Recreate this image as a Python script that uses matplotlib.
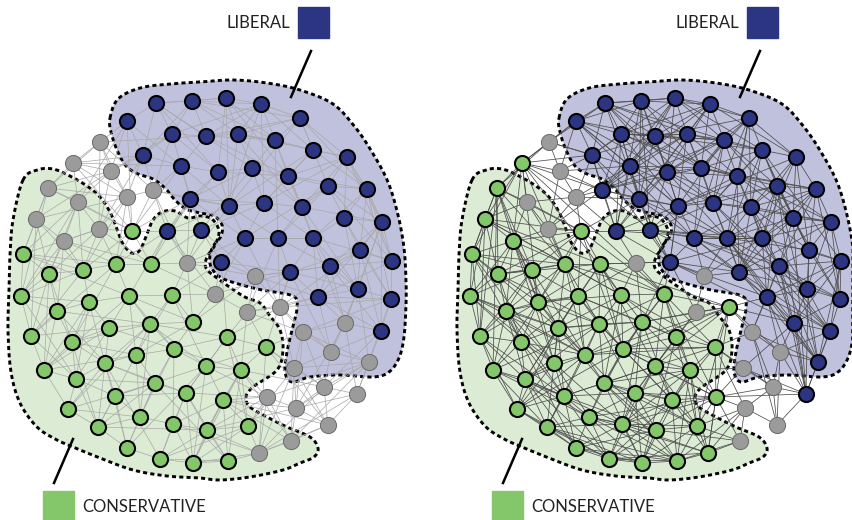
import numpy as np
import matplotlib
matplotlib.use("Agg")
import matplotlib.pyplot as plt
from matplotlib.collections import LineCollection

# Node layout (pixel units within one panel) and group of each node
node_x = [156, 192, 226, 261, 300, 127, 172, 206, 238, 275, 313, 347,
          143, 181, 218, 252, 288, 328, 367, 190, 229, 264, 302, 344, 382,
          167, 201, 245, 278, 313, 360, 221, 290, 330, 392, 318, 358, 391, 381,
          132, 23, 49, 83, 116, 151, 21, 57, 89, 129, 172,
          31, 72, 109, 150, 193, 227, 266, 44, 76, 105, 136, 174, 206, 241,
          68, 115, 155, 186, 223, 98, 140, 173, 207, 248, 127, 160, 193, 228,
          100, 73, 111, 48, 78, 127, 153, 36, 99, 64, 187, 255, 215, 247,
          280, 303, 345, 331, 294, 369, 267, 296, 324, 357, 328, 291, 259]
node_y = [103, 101, 98, 104, 118, 121, 134, 136, 134, 140, 150, 157,
          155, 166, 172, 168, 176, 186, 189, 199, 206, 203, 207, 218, 222,
          231, 230, 238, 238, 238, 250, 262, 272, 266, 261, 297, 289, 299, 331,
          231, 254, 274, 270, 264, 264, 296, 311, 302, 296, 295,
          336, 342, 328, 324, 322, 337, 347, 370, 379, 363, 355, 349, 366, 370,
          409, 396, 383, 393, 400, 427, 417, 424, 430, 426, 448, 459, 463, 461,
          142, 163, 171, 188, 202, 197, 190, 219, 229, 241, 263, 276, 294, 312,
          307, 332, 323, 352, 368, 362, 397, 408, 387, 394, 425, 441, 453]
group_before = (["L"] * 39 + ["C"] * 39 +
                ["U"] * 27)
group_after = (["L"] * 39 + ["C"] * 39 +
               ["U", "C", "U", "C", "U", "U", "L", "C", "U", "C", "U", "U", "C",
                "U", "C", "U", "L", "U", "U", "L", "C", "U", "U", "L", "U", "U",
                "C"])

legend_labels = ["LIBERAL", "CONSERVATIVE"]

# Community outlines (panel pixel units)
liberal_outline = [
    (110, 118), (118, 99), (140, 88), (170, 84), (200, 82), (233, 80),
    (267, 83), (300, 90), (333, 104), (355, 127), (372, 152), (388, 182),
    (398, 215), (404, 248), (406, 280), (406, 305), (404, 337), (399, 358),
    (389, 372), (373, 377), (340, 375), (310, 377), (292, 382), (285, 372),
    (287, 352), (292, 330), (297, 308), (293, 296), (262, 290), (235, 283),
    (220, 277), (211, 267), (210, 255), (214, 245), (221, 236), (222, 225),
    (214, 216), (200, 213), (186, 209), (175, 200), (165, 188), (153, 179),
    (138, 174), (126, 166), (117, 150), (111, 132)]
conservative_outline = [
    (23, 180), (37, 170), (53, 169), (70, 176), (87, 186), (100, 197),
    (110, 212), (117, 229), (123, 244), (132, 253), (140, 250), (147, 234),
    (153, 220), (162, 212), (175, 211), (188, 218), (200, 216), (212, 219),
    (219, 231), (215, 245), (207, 257), (206, 268), (217, 278), (243, 296),
    (260, 303), (270, 316), (280, 330), (283, 350), (277, 370), (253, 387),
    (246, 397), (250, 407), (267, 417), (287, 427), (310, 437), (318, 448),
    (314, 457), (300, 463), (283, 470), (250, 477), (220, 480), (200, 478),
    (167, 476), (133, 470), (100, 458), (73, 447), (57, 440), (37, 427),
    (20, 403), (11, 372), (8, 330), (9, 290), (10, 255), (13, 220)]

COL = {"L": "#2c3582", "C": "#84c76a", "U": "#9b9b9b"}
FILL_L = "#c0c1dc"
FILL_C = "#dcebd4"


def smooth_closed(pts, n=10):
    p = np.asarray(pts, float)
    m = len(p)
    t = np.linspace(0, 1, n, endpoint=False)[:, None]
    segs = []
    for i in range(m):
        p0, p1, p2, p3 = p[i - 1], p[i], p[(i + 1) % m], p[(i + 2) % m]
        segs.append(0.5 * (2 * p1 + (-p0 + p2) * t
                           + (2 * p0 - 5 * p1 + 4 * p2 - p3) * t ** 2
                           + (-p0 + 3 * p1 - 3 * p2 + p3) * t ** 3))
    out = np.vstack(segs)
    return np.vstack([out, out[:1]])


def neighbour_links(x, y, groups, ranks_any, ranks_same):
    """Link every node to the neighbours at the given distance ranks."""
    pts = np.column_stack([x, y]).astype(float)
    d = np.hypot(*(pts[:, None, :] - pts[None, :, :]).transpose(2, 0, 1))
    np.fill_diagonal(d, np.inf)
    links = set()
    for i in range(len(pts)):
        order = np.argsort(d[i], kind="stable")
        for r in ranks_any:
            j = order[r]
            links.add((min(i, j), max(i, j)))
        if groups[i] != "U":
            same = [j for j in order if groups[j] == groups[i]]
            for r in ranks_same:
                if r < len(same):
                    j = same[r]
                    links.add((min(i, j), max(i, j)))
    return [[pts[i], pts[j]] for i, j in sorted(links)]


def draw_panel(ax, groups, edge_col, edge_lw, ranks_any, ranks_same):
    ax.set_xlim(0, 426)
    ax.set_ylim(520, 0)
    ax.set_axis_off()
    for outline, fill in ((conservative_outline, FILL_C), (liberal_outline, FILL_L)):
        c = smooth_closed(outline)
        ax.fill(c[:, 0], c[:, 1], color=fill, zorder=1, lw=0)
    for outline in (conservative_outline, liberal_outline):
        c = smooth_closed(outline)
        ax.plot(c[:, 0], c[:, 1], color="black", lw=2.1,
                ls=(0, (1.4, 1.1)), zorder=2, solid_capstyle="butt")
    segs = neighbour_links(node_x, node_y, groups, ranks_any, ranks_same)
    ax.add_collection(LineCollection(segs, colors=edge_col, linewidths=edge_lw,
                                     zorder=3))
    xs = np.array(node_x)
    ys = np.array(node_y)
    g = np.array(groups)
    for key in ("U", "C", "L"):
        m = g == key
        if key == "U":
            ax.scatter(xs[m], ys[m], s=135, c=COL[key], edgecolors="#6a6a6a",
                       linewidths=0.7, zorder=4)
        else:
            ax.scatter(xs[m], ys[m], s=118, c=COL[key], edgecolors="black",
                       linewidths=1.5, zorder=4)

    # legend squares, labels and pointer lines
    ax.add_patch(plt.Rectangle((298, 7), 31, 31, color=COL["L"], zorder=5))
    ax.text(290, 23, legend_labels[0], ha="right", va="center", fontsize=12,
            family="Lato", color="#222222")
    ax.plot([311, 291], [51, 97], color="black", lw=1.8, zorder=5)
    ax.add_patch(plt.Rectangle((43, 491), 31, 29, color=COL["C"], zorder=5))
    ax.text(82, 507, legend_labels[1], ha="left", va="center", fontsize=12,
            family="Lato", color="#222222")
    ax.plot([73, 54], [439, 483], color="black", lw=1.8, zorder=5)


fig = plt.figure(figsize=(8.52, 5.2), dpi=100)
ax1 = fig.add_axes([0, 0, 426 / 852, 1])
ax2 = fig.add_axes([449 / 852, 0, 426 / 852, 1])
draw_panel(ax1, group_before, "#a8a8a8", 0.5, [0, 1, 2, 4, 7, 11, 16], [])
draw_panel(ax2, group_after, "#4d4d4d", 0.55, [0, 1, 3, 6, 10],
           [0, 1, 2, 4, 6, 9, 13, 18])
fig.savefig("out.png", dpi=100)
